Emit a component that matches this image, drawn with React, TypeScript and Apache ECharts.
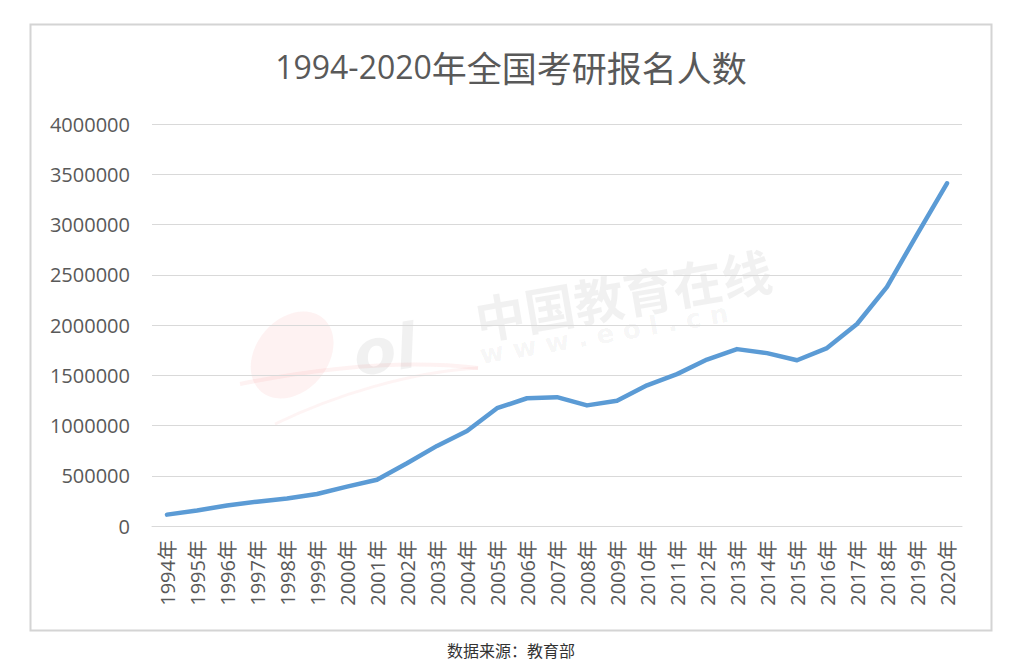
import React, { useEffect, useRef } from "react";
import * as echarts from "echarts";

const titleYears = "1994-2020";
const titleRest = "年全国考研报名人数";
const sourceText = "数据来源：教育部";
const years = [
  "1994年", "1995年", "1996年", "1997年", "1998年", "1999年", "2000年", "2001年", "2002年",
  "2003年", "2004年", "2005年", "2006年", "2007年", "2008年", "2009年", "2010年", "2011年",
  "2012年", "2013年", "2014年", "2015年", "2016年", "2017年", "2018年", "2019年", "2020年",
];
const applicants = [
  113000, 155000, 204000, 242000, 274000, 319000, 392000, 460000, 624000,
  797000, 945000, 1172000, 1271200, 1282000, 1200000, 1246000, 1400000, 1511000,
  1656000, 1760000, 1720000, 1649000, 1770000, 2010000, 2380000, 2900000, 3410000,
];
const yTicks = { min: 0, max: 4000000, interval: 500000 };

const FONT = "'Open Sans', 'Noto Sans CJK SC', sans-serif";

export default function App() {
  const ref = useRef<HTMLDivElement>(null);
  useEffect(() => {
    if (!ref.current) return;
    const chart = echarts.init(ref.current, undefined, { renderer: "svg" });
    chart.setOption({
      animation: false,
      backgroundColor: "#ffffff",
      title: {
        text: `{a|${titleYears}}{b|${titleRest}}`,
        left: "center",
        top: 44,
        textStyle: {
          fontFamily: FONT,
          fontSize: 32,
          fontWeight: "normal",
          color: "#595959",
          rich: {
            a: { fontFamily: "'Open Sans', sans-serif", fontSize: 32, color: "#595959" },
            b: { fontFamily: "'Noto Sans CJK SC', sans-serif", fontSize: 35, color: "#595959" },
          },
        },
      },
      grid: { left: 152, right: 60, top: 124, bottom: 145, containLabel: false },
      xAxis: {
        type: "category",
        data: years,
        boundaryGap: true,
        axisLine: { lineStyle: { color: "#d9d9d9", width: 1 } },
        axisTick: { show: false },
        axisLabel: {
          rotate: 90,
          interval: 0,
          margin: 14,
          fontFamily: FONT,
          fontSize: 20,
          color: "#595959",
        },
      },
      yAxis: {
        type: "value",
        min: yTicks.min,
        max: yTicks.max,
        interval: yTicks.interval,
        axisLine: { show: false },
        axisTick: { show: false },
        splitLine: { lineStyle: { color: "#d9d9d9", width: 1 } },
        axisLabel: {
          margin: 22,
          fontFamily: FONT,
          fontSize: 20,
          color: "#595959",
          formatter: (v: number) => String(v),
        },
      },
      series: [
        {
          type: "line",
          data: applicants,
          showSymbol: false,
          symbol: "none",
          lineStyle: { color: "#5B9BD5", width: 4.5, cap: "round", join: "round" },
          z: 5,
        },
      ],
      graphic: [
        {
          type: "rect",
          shape: { x: 30.5, y: 24.5, width: 961, height: 606 },
          style: { fill: "none", stroke: "#d4d4d4", lineWidth: 2 },
          z: -1,
        },
        {
          type: "ellipse",
          shape: { cx: 292, cy: 355, rx: 36, ry: 48 },
          rotation: -0.7,
          originX: 292,
          originY: 355,
          style: { fill: "rgba(240,110,110,0.09)" },
          z: 0,
        },
        {
          type: "bezierCurve",
          shape: { x1: 240, y1: 384, x2: 478, y2: 368, cpx1: 330, cpy1: 366, cpx2: 410, cpy2: 360 },
          style: { stroke: "rgba(240,110,110,0.09)", lineWidth: 4, fill: "none" },
          z: 0,
        },
        {
          type: "bezierCurve",
          shape: { x1: 275, y1: 424, x2: 478, y2: 368, cpx1: 335, cpy1: 395, cpx2: 410, cpy2: 372 },
          style: { stroke: "rgba(240,110,110,0.08)", lineWidth: 3, fill: "none" },
          z: 0,
        },
        {
          type: "text",
          x: 385,
          y: 350,
          rotation: 0.15,
          style: {
            text: "ol",
            fontFamily: "'DejaVu Sans', sans-serif",
            fontSize: 62,
            fontWeight: "bold",
            fontStyle: "italic",
            fill: "rgba(0,0,0,0.055)",
            align: "center",
            verticalAlign: "middle",
          },
          z: 0,
        },
        {
          type: "text",
          x: 623,
          y: 293,
          rotation: 0.17,
          style: {
            text: "中国教育在线",
            fontFamily: "'Noto Sans CJK SC', sans-serif",
            fontSize: 50,
            fontWeight: "bold",
            fill: "rgba(0,0,0,0.055)",
            align: "center",
            verticalAlign: "middle",
          },
          z: 0,
        },
        {
          type: "text",
          x: 604,
          y: 334,
          rotation: 0.17,
          style: {
            text: "w w w . e o l . c n",
            fontFamily: "'DejaVu Sans', sans-serif",
            fontSize: 26,
            fontWeight: "bold",
            fill: "rgba(0,0,0,0.055)",
            align: "center",
            verticalAlign: "middle",
          },
          z: 0,
        },
        {
          type: "text",
          x: 511,
          y: 650,
          style: {
            text: sourceText,
            fontFamily: "'Noto Sans CJK SC', sans-serif",
            fontSize: 16,
            fill: "#333333",
            align: "center",
            verticalAlign: "middle",
          },
        },
      ],
    });
    return () => chart.dispose();
  }, []);
  return (
    <div
      ref={ref}
      style={{ position: "absolute", left: 0, top: 0, width: 1022, height: 671 }}
    />
  );
}
